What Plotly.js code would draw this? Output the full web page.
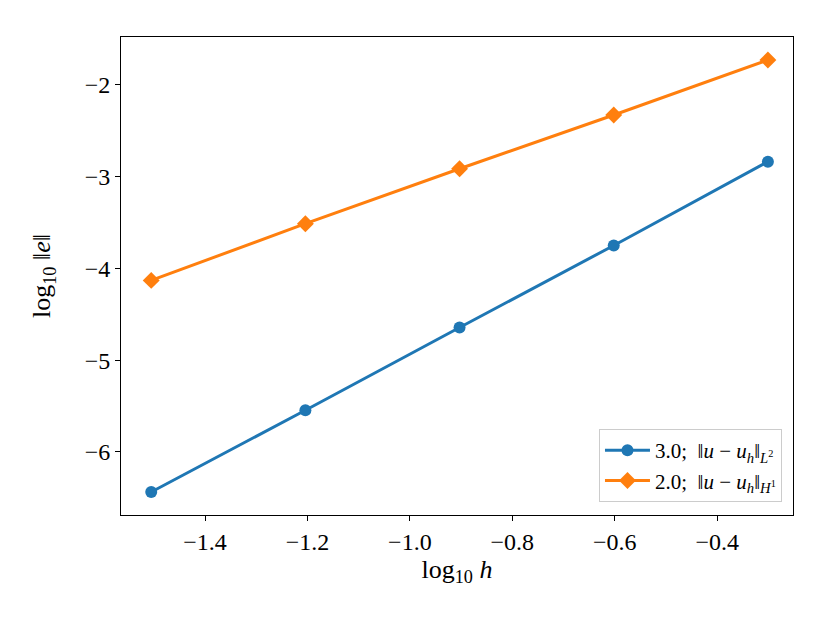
<!DOCTYPE html>
<html>
<head>
<meta charset="utf-8">
<script src="https://cdn.plot.ly/plotly-3.0.1.min.js"></script>
<style>body{margin:0;background:#fff}</style>
</head>
<body>
<div id="plot" style="width:830px;height:623px"></div>
<script>
// log10 of mesh size h = 1/32 ... 1/2
var logH = [-1.505, -1.204, -0.903, -0.602, -0.301];
var errL2 = [-6.436, -5.545, -4.643, -3.749, -2.836];
var errH1 = [-4.13, -3.512, -2.913, -2.327, -1.727];
var xTicks = [-1.4, -1.2, -1.0, -0.8, -0.6, -0.4];
var xTickText = ["−1.4", "−1.2", "−1.0", "−0.8", "−0.6", "−0.4"];
var yTicks = [-6, -5, -4, -3, -2];
var yTickText = ["−6", "−5", "−4", "−3", "−2"];
var nameL2 = "3.0;  ‖<i>u</i> − <i>u</i><sub><i>h</i></sub>‖<sub><i>L</i><sup>2</sup></sub>";
var nameH1 = "2.0;  ‖<i>u</i> − <i>u</i><sub><i>h</i></sub>‖<sub><i>H</i><sup>1</sup></sub>";

var serif = "Liberation Serif";

var l2Trace = {
  x: logH,
  y: errL2,
  mode: "lines+markers",
  name: nameL2,
  line: {color: "#1f77b4", width: 3},
  marker: {color: "#1f77b4", size: 12, symbol: "circle"}
};
var h1Trace = {
  x: logH,
  y: errH1,
  mode: "lines+markers",
  name: nameH1,
  line: {color: "#ff7f0e", width: 3},
  marker: {color: "#ff7f0e", size: 13, symbol: "diamond"}
};

var layout = {
  width: 830,
  height: 623,
  margin: {l: 121, r: 37, t: 37, b: 108},
  paper_bgcolor: "#fff",
  plot_bgcolor: "#fff",
  font: {family: serif, color: "#000", size: 24},
  showlegend: true,
  xaxis: {
    range: [-1.564, -0.252],
    tickvals: xTicks,
    ticktext: xTickText,
    ticks: "outside", ticklen: 5, tickwidth: 1, tickcolor: "#000",
    showgrid: false, zeroline: false,
    showline: true, linecolor: "#000", linewidth: 1, mirror: true,
    tickfont: {family: serif, size: 24},
    title: {text: "log<sub>10</sub> <i>h</i>", font: {family: serif, size: 26}, standoff: 2}
  },
  yaxis: {
    range: [-6.687, -1.477],
    tickvals: yTicks,
    ticktext: yTickText,
    ticks: "outside", ticklen: 5, tickwidth: 1, tickcolor: "#000",
    showgrid: false, zeroline: false,
    showline: true, linecolor: "#000", linewidth: 1, mirror: true,
    tickfont: {family: serif, size: 24},
    title: {text: "log<sub>10</sub> ‖<i>e</i>‖", font: {family: serif, size: 26}, standoff: 26}
  },
  legend: {
    x: 0.9836, y: 0.027, xanchor: "right", yanchor: "bottom",
    bgcolor: "rgba(255,255,255,0.8)",
    bordercolor: "#cccccc", borderwidth: 1,
    itemwidth: 45,
    font: {family: serif, size: 21}
  }
};

Plotly.newPlot("plot", [l2Trace, h1Trace], layout, {displayModeBar: false});
</script>
</body>
</html>
